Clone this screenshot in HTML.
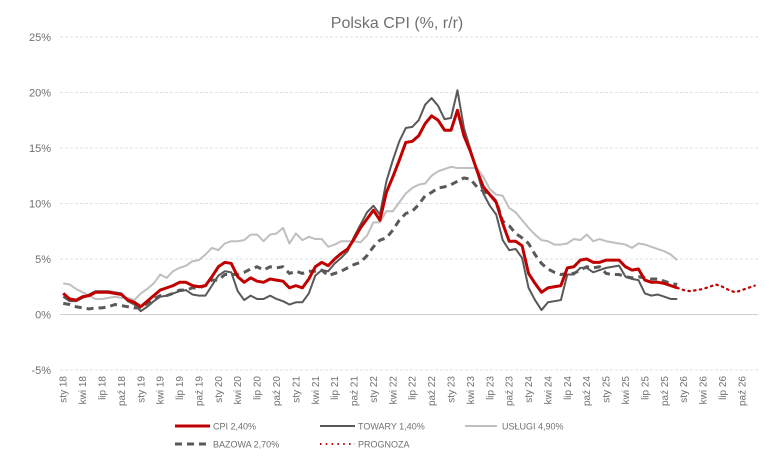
<!DOCTYPE html>
<html><head><meta charset="utf-8">
<style>
body{margin:0;background:#fff;}
svg{display:block;font-family:"Liberation Sans",sans-serif;}
</style></head>
<body>
<svg id="chart" width="777" height="458" viewBox="0 0 777 458" xmlns="http://www.w3.org/2000/svg">
<rect width="777" height="458" fill="#fff"/>
<text x="397" y="28" text-anchor="middle" font-size="16" fill="#707070">Polska CPI (%, r/r)</text>
<g id="grid"></g><g id="yticks"></g><g id="xticks"></g><g id="series"></g>
<g font-size="9" fill="#707070">
<g><line x1="175" y1="426" x2="210" y2="426" stroke="#c00000" stroke-width="3"/><text x="213" y="429.5">CPI 2,40%</text></g>
<g><line x1="320" y1="426" x2="355" y2="426" stroke="#595959" stroke-width="2"/><text x="358" y="429.5">TOWARY 1,40%</text></g>
<g><line x1="465" y1="426" x2="497" y2="426" stroke="#bfbfbf" stroke-width="2"/><text x="502" y="429.5">USŁUGI 4,90%</text></g>
<g><line x1="175" y1="444" x2="210" y2="444" stroke="#595959" stroke-width="3" stroke-dasharray="7,5"/><text x="213" y="447.5">BAZOWA 2,70%</text></g>
<g><line x1="320" y1="444" x2="355" y2="444" stroke="#c00000" stroke-width="2" stroke-dasharray="1.5,4.3"/><text x="358" y="447.5">PROGNOZA</text></g>
</g>
</svg>
<script>
const yTicks=[25,20,15,10,5,0,-5];
const yTickLabels=["25%","20%","15%","10%","5%","0%","-5%"];
const monthNames=["sty","kwi","lip","paź"];
const cpi=[1.9,1.4,1.3,1.6,1.7,2.0,2.0,2.0,1.9,1.8,1.3,1.1,
0.7,1.2,1.7,2.2,2.4,2.6,2.9,2.9,2.6,2.5,2.6,3.4,
4.3,4.7,4.6,3.4,2.9,3.3,3.0,2.9,3.2,3.1,3.0,2.4,
2.6,2.4,3.2,4.3,4.7,4.4,5.0,5.5,5.9,6.8,7.8,8.6,
9.4,8.5,11.0,12.4,13.9,15.5,15.6,16.1,17.2,17.9,17.5,16.6,
16.6,18.4,16.1,14.7,13.0,11.5,10.8,10.1,8.2,6.6,6.6,6.2,
3.7,2.8,2.0,2.4,2.5,2.6,4.2,4.3,4.9,5.0,4.7,4.7,
4.9,4.9,4.9,4.3,4.0,4.1,3.1,2.9,2.9,2.8,2.6,2.4];
const towary=[1.6,1.2,1.2,1.5,1.8,2.1,2.1,2.1,2.0,1.9,1.2,0.9,
0.3,0.7,1.2,1.6,1.7,1.9,2.1,2.2,1.8,1.7,1.7,2.6,
3.5,3.9,3.8,2.1,1.3,1.7,1.4,1.4,1.7,1.4,1.2,0.9,
1.1,1.1,1.9,3.5,4.0,3.9,4.6,5.1,5.7,7.0,8.1,9.2,
9.8,9.0,12.0,13.9,15.6,16.8,16.9,17.5,18.9,19.5,18.8,17.6,
17.7,20.2,16.8,14.9,12.9,10.9,9.8,9.0,6.7,5.8,5.9,5.1,
2.4,1.3,0.4,1.1,1.2,1.3,3.6,3.6,4.2,4.2,3.8,4.0,
4.2,4.3,4.4,3.4,3.2,3.1,1.9,1.7,1.8,1.6,1.4,1.4];
const uslugi=[2.8,2.7,2.3,2.0,1.7,1.4,1.4,1.5,1.6,1.5,1.5,1.3,
1.9,2.3,2.8,3.6,3.3,3.9,4.2,4.4,4.8,4.9,5.4,6.0,
5.8,6.4,6.6,6.6,6.7,7.2,7.2,6.6,7.2,7.3,7.8,6.4,
7.3,6.7,7.0,6.8,6.8,6.1,6.3,6.6,6.6,6.6,6.5,7.1,
8.3,8.3,9.3,9.3,10.1,10.9,11.4,11.7,11.8,12.5,12.9,13.1,
13.3,13.2,13.2,13.2,13.2,12.4,11.3,10.8,10.7,9.6,9.2,8.5,
7.8,7.2,6.7,6.6,6.3,6.3,6.4,6.8,6.7,7.2,6.6,6.8,
6.6,6.5,6.4,6.3,6.0,6.4,6.3,6.1,5.9,5.7,5.4,4.9];
const bazowa=[1.0,0.9,0.7,0.6,0.5,0.6,0.6,0.7,0.9,0.8,0.7,0.6,
0.6,1.0,1.4,1.7,1.7,1.9,2.2,2.2,2.4,2.4,2.6,3.1,
3.1,3.6,3.6,3.6,3.8,4.1,4.3,4.0,4.3,4.2,4.3,3.7,
3.9,3.7,3.9,3.9,4.0,3.5,3.7,3.9,4.2,4.5,4.7,5.3,
6.1,6.7,6.9,7.6,8.5,9.1,9.3,9.9,10.7,11.0,11.4,11.5,
11.7,12.0,12.3,12.2,11.5,11.1,10.8,10.2,8.4,8.0,7.3,6.9,
6.4,5.4,4.6,4.1,3.8,3.6,3.7,3.7,4.0,4.3,4.2,4.3,
3.7,3.6,3.6,3.4,3.3,3.4,3.3,3.2,3.2,3.0,2.8,2.7];
const prognoza=[2.4,2.2,2.1,2.2,2.3,2.5,2.7,2.5,2.2,2.0,2.2,2.4,2.6];
const prognozaStart=95;
const nMonths=108;
const X0=60, X1=758, Y0=37, YMAX=25, YMIN=-5, YH=333;
function xPos(i){return X0+(i+0.5)*(X1-X0)/nMonths;}
function yPos(v){return Y0+(YMAX-v)/(YMAX-YMIN)*YH;}
const NS="http://www.w3.org/2000/svg";
function mk(tag,attrs,parent){const e=document.createElementNS(NS,tag);for(const k in attrs)e.setAttribute(k,attrs[k]);parent.appendChild(e);return e;}
const grid=document.getElementById('grid'),yt=document.getElementById('yticks'),xt=document.getElementById('xticks'),sg=document.getElementById('series');
yTicks.forEach((v,k)=>{
  const l=mk('line',{x1:X0,x2:758,y1:yPos(v),y2:yPos(v),stroke:v===0?'#d0d0d0':'#e2e2e2','stroke-width':1,'stroke-dasharray':v===0?'none':'3,2'},grid);
  
  
  const t=mk('text',{x:51,y:yPos(v)+4,'text-anchor':'end','font-size':11,fill:'#707070'},yt);
  t.textContent=yTickLabels[k];
  
  
});
for(let i=0;i<nMonths;i+=3){
  const yr=18+Math.floor(i/12);
  const lab=monthNames[(i%12)/3]+' '+yr;
  const x=xPos(i)+3.5;
  const t=mk('text',{x:x,y:376,'text-anchor':'end','font-size':10,fill:'#707070',transform:'rotate(-90 '+x+' 376)'},xt);
  t.textContent=lab;
  
  
}
function line(arr,start,attrs,name){
  const pts=arr.map((v,i)=>xPos(i+start).toFixed(2)+','+yPos(v).toFixed(2)).join(' ');
  const p=mk('polyline',Object.assign({points:pts,fill:'none','stroke-linejoin':'round'},attrs),sg);
  
  
}
line(uslugi,0,{stroke:'#bfbfbf','stroke-width':2},'series-uslugi');
line(bazowa,0,{stroke:'#595959','stroke-width':3,'stroke-dasharray':'7,5'},'series-bazowa');
line(towary,0,{stroke:'#595959','stroke-width':2},'series-towary');
line(cpi,0,{stroke:'#c00000','stroke-width':3},'series-cpi');
line(prognoza,prognozaStart,{stroke:'#c00000','stroke-width':2.2,'stroke-dasharray':'1.5,4.3','stroke-linecap':'round'},'series-prognoza');
</script>
</body></html>
